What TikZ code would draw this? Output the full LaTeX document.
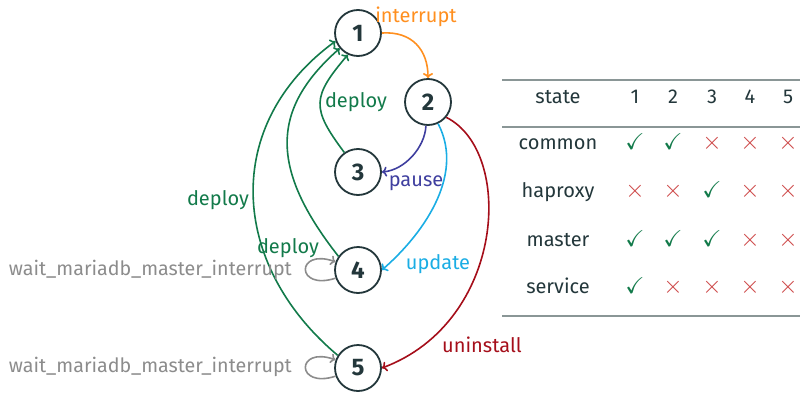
\documentclass[tikz,border=0pt]{standalone}
\usepackage{amssymb}
\usepackage{fontspec}
\setmainfont{Fira Sans}
\usetikzlibrary{arrows.meta}
\definecolor{dk}{HTML}{23373B}
\definecolor{corange}{HTML}{FF8F1F}
\definecolor{cgreen}{HTML}{127A4A}
\definecolor{cpurple}{HTML}{3F3F9F}
\definecolor{ccyan}{HTML}{1AADE4}
\definecolor{cred}{HTML}{A50E1A}
\definecolor{cgray}{HTML}{8C8C8C}
\definecolor{crule}{HTML}{8A9696}
\definecolor{ccross}{HTML}{CC4444}
\begin{document}
\begin{tikzpicture}[x=1pt,y=1pt,
  st/.style={circle,draw=dk,line width=1.8pt,minimum size=46pt,inner sep=0pt,
    font=\fontsize{24}{26}\selectfont\bfseries,text=dk},
  lbl/.style={font=\fontsize{20}{23}\selectfont,inner sep=0pt},
  edg/.style={line width=1.6pt,-{To[length=5pt,width=10pt]}},
  cell/.style={font=\fontsize{20}{23}\selectfont,text=dk,anchor=base,inner sep=0pt},
  yes/.style={cell,text=cgreen,font=\fontsize{23}{25}\selectfont},
  no/.style={cell,text=ccross,font=\fontsize{25}{27}\selectfont},
  rulest/.style={draw=crule,line width=1.3pt}
]
\useasboundingbox (0,0) rectangle (800,392);
% states
\node[st] (n1) at (358,359) {1};
\node[st] (n2) at (428,290) {2};
\node[st] (n3) at (358,220) {3};
\node[st] (n4) at (358,122) {4};
\node[st] (n5) at (358,24) {5};
% edges
\draw[edg,corange] (n1.east) .. controls (412,361) and (428,342) .. (n2.north);
\draw[edg,cpurple] (n2.265) .. controls (425,245) and (405,222) .. (n3.east);
\draw[edg,ccyan] (n2.295) .. controls (466,215) and (420,155) .. (n4.east);
\draw[edg,cred] (n2.-40) .. controls (515,240) and (505,70) .. (n5.east);
\draw[edg,cgreen] (n3.125) .. controls (311,284) and (312,295) .. (n1.245);
\draw[edg,cgreen] (n4.145) .. controls (269,224) and (271,283) .. (n1.220);
\draw[edg,cgreen] (n5.148) .. controls (229,128) and (222,268) .. (n1.200);
\draw[edg,cgray] (n4.200) .. controls +(-40,-13) and +(-40,14) .. (n4.160);
\draw[edg,cgray] (n5.200) .. controls +(-40,-13) and +(-40,14) .. (n5.160);
% edge labels
\node[lbl,text=corange] (l12) at (416,375) {interrupt};
\node[lbl,text=cgreen] (l31) at (356,290) {deploy};
\node[lbl,text=cpurple] (l23) at (416,209) {pause};
\node[lbl,text=ccyan] (l24) at (438,128) {update};
\node[lbl,text=cgreen] (l41) at (288,144) {deploy};
\node[lbl,text=cgreen] (l51) at (218,192) {deploy};
\node[lbl,text=cred] (l25) at (482,47) {uninstall};
\node[lbl,text=cgray,anchor=east,font=\fontsize{19.7}{23}\selectfont] (w4) at (292,122) {wait\_mariadb\_master\_interrupt};
\node[lbl,text=cgray,anchor=east,font=\fontsize{19.7}{23}\selectfont] (w5) at (292,25) {wait\_mariadb\_master\_interrupt};
% table
\draw[rulest] (502,312) -- (800,312);
\draw[rulest] (502,265) -- (800,265);
\draw[rulest] (502,76) -- (800,76);
\node[cell] (hs) at (558,289) {state};
\node[cell] (h1) at (635,289) {1};
\node[cell] (h2) at (673,289) {2};
\node[cell] (h3) at (712,289) {3};
\node[cell] (h4) at (750,289) {4};
\node[cell] (h5) at (788,289) {5};
\node[cell] (rc) at (558,243) {common};
\node[yes] (c1) at (635,243) {$\checkmark$};
\node[yes] (c2) at (673,243) {$\checkmark$};
\node[no] (c3) at (712,243) {$\times$};
\node[no] (c4) at (750,243) {$\times$};
\node[no] (c5) at (788,243) {$\times$};
\node[cell] (rh) at (558,195) {haproxy};
\node[no] (h1x) at (635,195) {$\times$};
\node[no] (h2x) at (673,195) {$\times$};
\node[yes] (h3x) at (712,195) {$\checkmark$};
\node[no] (h4x) at (750,195) {$\times$};
\node[no] (h5x) at (788,195) {$\times$};
\node[cell] (rm) at (558,146) {master};
\node[yes] (m1) at (635,146) {$\checkmark$};
\node[yes] (m2) at (673,146) {$\checkmark$};
\node[yes] (m3) at (712,146) {$\checkmark$};
\node[no] (m4) at (750,146) {$\times$};
\node[no] (m5) at (788,146) {$\times$};
\node[cell] (rs) at (558,99) {service};
\node[yes] (s1) at (635,99) {$\checkmark$};
\node[no] (s2) at (673,99) {$\times$};
\node[no] (s3) at (712,99) {$\times$};
\node[no] (s4) at (750,99) {$\times$};
\node[no] (s5) at (788,99) {$\times$};
\end{tikzpicture}
\end{document}
